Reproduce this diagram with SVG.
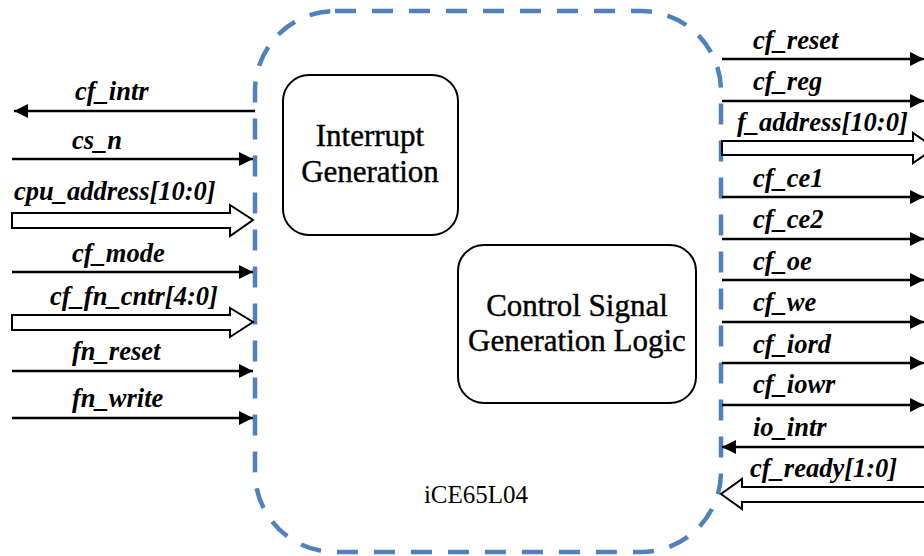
<svg xmlns="http://www.w3.org/2000/svg" width="924" height="556" viewBox="0 0 924 556">
<defs>
<style>
.lbl{font-family:"Liberation Serif",serif;font-style:italic;font-weight:bold;font-size:26.5px;fill:#000}
.ttl{font-family:"Liberation Serif",serif;font-size:31px;fill:#000;stroke:#000;stroke-width:0.4;text-anchor:middle}
.sig{stroke:#000;stroke-width:2.5;fill:none}
.bus{stroke:#000;stroke-width:2;fill:#fff}
.box{stroke:#000;stroke-width:2;fill:#fff}
</style>
<marker id="ah" viewBox="0 0 10 10" refX="10" refY="5" markerUnits="userSpaceOnUse" markerWidth="16" markerHeight="14" orient="auto">
<path d="M0,0 L10,5 L0,10 Z" fill="#000"/>
</marker>
</defs>
<g id="chip">
<rect x="255" y="11" width="466" height="541" rx="80" ry="80" fill="none" stroke="#4f81bd" stroke-width="4.5" stroke-dasharray="21 16"/>
<text x="476" y="503" style="font-family:'Liberation Serif',serif;font-size:25px;text-anchor:middle">iCE65L04</text>
</g>
<g id="interrupt">
<rect class="box" x="283" y="75" width="175" height="160" rx="26"/>
<text class="ttl" x="370" y="146">Interrupt</text>
<text class="ttl" x="370" y="182">Generation</text>
</g>
<g id="control">
<rect class="box" x="458" y="245" width="238" height="158" rx="26"/>
<text class="ttl" x="577" y="316">Control Signal</text>
<text class="ttl" x="577" y="351">Generation Logic</text>
</g>
<g id="connectors">
<line class="sig" x1="255" y1="111" x2="14" y2="111" marker-end="url(#ah)"/>
<line class="sig" x1="12" y1="159" x2="253" y2="159" marker-end="url(#ah)"/>
<polygon class="bus" points="12,213 230,213 230,205 253,220 230,236 230,228 12,228"/>
<line class="sig" x1="12" y1="272" x2="253" y2="272" marker-end="url(#ah)"/>
<polygon class="bus" points="12,315 230,315 230,308 253,322 230,337 230,330 12,330"/>
<line class="sig" x1="12" y1="371" x2="253" y2="371" marker-end="url(#ah)"/>
<line class="sig" x1="12" y1="418" x2="253" y2="418" marker-end="url(#ah)"/>

<line class="sig" x1="722" y1="59" x2="924" y2="59" marker-end="url(#ah)"/>
<line class="sig" x1="722" y1="101" x2="924" y2="101" marker-end="url(#ah)"/>
<polygon class="bus" points="722,141 913,141 913,133 935,148 913,163 913,155 722,155"/>
<line class="sig" x1="722" y1="197" x2="924" y2="197" marker-end="url(#ah)"/>
<line class="sig" x1="722" y1="239" x2="924" y2="239" marker-end="url(#ah)"/>
<line class="sig" x1="722" y1="280" x2="924" y2="280" marker-end="url(#ah)"/>
<line class="sig" x1="722" y1="322" x2="924" y2="322" marker-end="url(#ah)"/>
<line class="sig" x1="722" y1="363" x2="924" y2="363" marker-end="url(#ah)"/>
<line class="sig" x1="722" y1="405" x2="924" y2="405" marker-end="url(#ah)"/>
<line class="sig" x1="924" y1="447" x2="722" y2="447" marker-end="url(#ah)"/>
<polygon class="bus" points="930,487 742,487 742,479 721,494 742,509 742,502 930,502"/>
</g>
<g id="labels">
<text class="lbl" x="75" y="100">cf_intr</text>
<text class="lbl" x="72" y="149">cs_n</text>
<text class="lbl" x="14" y="200">cpu_address[10:0]</text>
<text class="lbl" x="72" y="262">cf_mode</text>
<text class="lbl" x="50" y="305">cf_fn_cntr[4:0]</text>
<text class="lbl" x="72" y="360">fn_reset</text>
<text class="lbl" x="72" y="407">fn_write</text>
<text class="lbl" x="753" y="49">cf_reset</text>
<text class="lbl" x="753" y="90">cf_reg</text>
<text class="lbl" x="737" y="131">f_address[10:0]</text>
<text class="lbl" x="753" y="187">cf_ce1</text>
<text class="lbl" x="753" y="228">cf_ce2</text>
<text class="lbl" x="753" y="270">cf_oe</text>
<text class="lbl" x="753" y="311">cf_we</text>
<text class="lbl" x="753" y="353">cf_iord</text>
<text class="lbl" x="753" y="393">cf_iowr</text>
<text class="lbl" x="753" y="436">io_intr</text>
<text class="lbl" x="750" y="477">cf_ready[1:0]</text>
</g>
</svg>
